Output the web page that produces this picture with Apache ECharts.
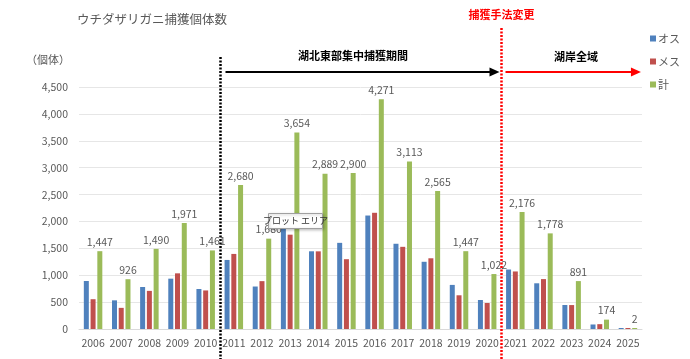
<!DOCTYPE html>
<html><head><meta charset="utf-8">
<script src="https://cdn.jsdelivr.net/npm/echarts@6/dist/echarts.min.js"></script>
<style>html,body{margin:0;padding:0;background:#fff}#c{width:690px;height:359px}</style>
</head><body><div id="c"></div>
<script>
const years = ['2006','2007','2008','2009','2010','2011','2012','2013','2014','2015','2016','2017','2018','2019','2020','2021','2022','2023','2024','2025'];
const male   = [893, 533, 781, 936, 744, 1284, 790, 1900, 1445, 1602, 2110, 1585, 1250, 820, 539, 1106, 850, 446, 84, 1];
const female = [554, 393, 709, 1035, 717, 1396, 890, 1754, 1444, 1298, 2161, 1528, 1315, 627, 483, 1070, 928, 445, 90, 1];
const total  = [1447, 926, 1490, 1971, 1461, 2680, 1680, 3654, 2889, 2900, 4271, 3113, 2565, 1447, 1022, 2176, 1778, 891, 174, 2];
const seriesNames = ['オス', 'メス', '計'];
const yTicks = [0, 500, 1000, 1500, 2000, 2500, 3000, 3500, 4000, 4500];

const FONT = '"Noto Sans CJK JP", "Noto Sans", sans-serif';
const GRAY = '#595959';
const chart = echarts.init(document.getElementById('c'));

function barSeries(name, data, color, withLabel) {
  return {
    name: name, type: 'bar', data: data, barWidth: 5, barGap: '35%', barMinHeight: 1,
    itemStyle: { color: color },
    label: withLabel ? {
      show: true, position: 'top', distance: 4, color: GRAY, fontSize: 10.5, fontFamily: FONT,
      formatter: p => p.value.toLocaleString('en-US')
    } : { show: false },
    labelLayout: { hideOverlap: false },
    animation: false
  };
}

chart.setOption({
  animation: false,
  backgroundColor: '#fff',
  textStyle: { fontFamily: FONT },
  title: {
    text: 'ウチダザリガニ捕獲個体数', left: 72, top: 8,
    textStyle: { fontSize: 12.5, fontWeight: 'normal', color: GRAY, fontFamily: FONT }
  },
  legend: {
    data: seriesNames, orient: 'vertical', left: 645, top: 28, itemWidth: 6, itemHeight: 6, itemGap: 12,
    icon: 'rect', textStyle: { fontSize: 11, color: GRAY, fontFamily: FONT, padding: [0, 0, 0, -3] }
  },
  grid: { left: 79, right: 48, top: 87, bottom: 30, containLabel: false },
  xAxis: {
    type: 'category', data: years,
    axisLine: { lineStyle: { color: '#D9D9D9' } },
    axisTick: { show: false },
    axisLabel: { color: GRAY, fontSize: 10.5, fontFamily: FONT, margin: 9, interval: 0, hideOverlap: false }
  },
  yAxis: {
    type: 'value', min: yTicks[0], max: yTicks[yTicks.length - 1], interval: 500,
    axisLine: { show: false }, axisTick: { show: false },
    splitLine: { lineStyle: { color: '#E6E6E6' } },
    axisLabel: { color: GRAY, fontSize: 10.5, fontFamily: FONT, margin: 11,
      formatter: v => v.toLocaleString('en-US') }
  },
  series: [
    barSeries(seriesNames[0], male, '#4F81BD', false),
    barSeries(seriesNames[1], female, '#C0504D', false),
    barSeries(seriesNames[2], total, '#9BBB59', true)
  ]
});

function between(a, b) {
  const pa = chart.convertToPixel({ xAxisIndex: 0 }, a);
  const pb = chart.convertToPixel({ xAxisIndex: 0 }, b);
  return Math.round((pa + pb) / 2) + 0.5;
}
const x1 = between('2010', '2011');
const x2 = between('2020', '2021');
const xEnd = chart.convertToPixel({ xAxisIndex: 0 }, '2025') + 13;
const ay = 72;

function arrow(xa, xb, color) {
  return [
    { type: 'line', shape: { x1: xa, y1: ay, x2: xb - 8, y2: ay }, style: { stroke: color, lineWidth: 2.2 }, z: 10 },
    { type: 'polygon', shape: { points: [[xb, ay], [xb - 10, ay - 4.5], [xb - 10, ay + 4.5]] }, style: { fill: color }, z: 10 }
  ];
}

chart.setOption({
  graphic: [
    { type: 'line', shape: { x1: x1, y1: 57, x2: x1, y2: 359 }, style: { stroke: '#000', lineWidth: 2.5, lineDash: [2, 1.5] }, z: 10 },
    { type: 'line', shape: { x1: x2, y1: 28, x2: x2, y2: 359 }, style: { stroke: '#FF0000', lineWidth: 2.5, lineDash: [2, 1.5] }, z: 10 },
    ...arrow(x1 + 5, x2 - 2, '#000'),
    ...arrow(x2 + 4, xEnd, '#FF0000'),
    { type: 'text', x: 353, y: 56, style: { text: '湖北東部集中捕獲期間', fill: '#000', font: 'bold 11px ' + FONT, textAlign: 'center', textVerticalAlign: 'middle' }, z: 10 },
    { type: 'text', x: 576, y: 57, style: { text: '湖岸全域', fill: '#000', font: 'bold 11px ' + FONT, textAlign: 'center', textVerticalAlign: 'middle' }, z: 10 },
    { type: 'text', x: x2, y: 15, style: { text: '捕獲手法変更', fill: '#FF0000', font: 'bold 11px ' + FONT, textAlign: 'center', textVerticalAlign: 'middle' }, z: 10 },
    { type: 'text', x: 26, y: 60, style: { text: '（個体）', fill: GRAY, font: '11px ' + FONT, textAlign: 'left', textVerticalAlign: 'middle' }, z: 10 },
    { type: 'rect', shape: { x: 268.5, y: 213.5, width: 54, height: 15 }, style: { fill: '#fff', stroke: '#A0A0A0', lineWidth: 1, shadowBlur: 3, shadowColor: 'rgba(0,0,0,0.25)', shadowOffsetX: 1, shadowOffsetY: 1 }, z: 20 },
    { type: 'text', x: 295.5, y: 221, style: { text: 'プロット エリア', fill: '#333', font: '9px ' + FONT, textAlign: 'center', textVerticalAlign: 'middle' }, z: 21 }
  ]
});
</script>
</body></html>
